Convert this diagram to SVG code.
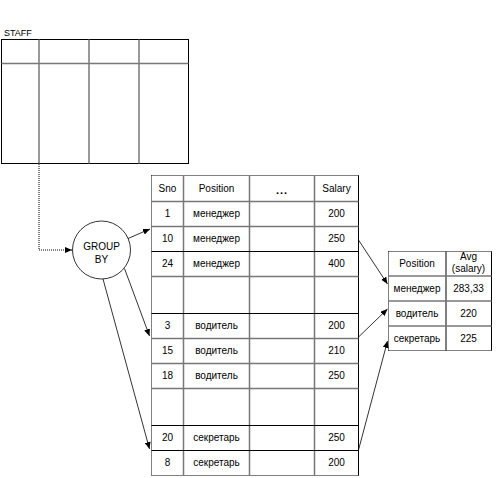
<svg xmlns="http://www.w3.org/2000/svg" width="503" height="478" viewBox="0 0 503 478">
<style>
text{font-family:"Liberation Sans",Arial,sans-serif;font-size:10px;fill:#000;text-anchor:middle}
.b{fill:none;stroke:#000;stroke-width:1}
.d{fill:none;stroke:#000;stroke-width:1;stroke-dasharray:1,1}
.g{stroke:#777;stroke-width:1.5}
.k{stroke:#000;stroke-width:1}
.c{fill:none;stroke:#000;stroke-width:0.8}
</style>
<defs>
<marker id="ah" markerUnits="userSpaceOnUse" markerWidth="8" markerHeight="6" refX="7" refY="3" orient="auto">
<path d="M0,0 L7,3 L0,6 Z" fill="#000"/>
</marker>
</defs>
<g id="staff">
<text x="4" y="36" style="text-anchor:start;font-size:9px">STAFF</text>
<rect class="b" x="1.5" y="39.5" width="187" height="124"/>
<line class="g" x1="1.5" y1="63.5" x2="188.5" y2="63.5"/>
<line class="g" x1="39" y1="39.5" x2="39" y2="163.5"/>
<line class="g" x1="89" y1="39.5" x2="89" y2="163.5"/>
<line class="g" x1="139" y1="39.5" x2="139" y2="163.5"/>
</g>
<g id="groupby">
<circle cx="101.5" cy="250" r="29" fill="#fff" stroke="#000" stroke-width="0.8"/>
<text x="101.5" y="250">GROUP</text>
<text x="101.5" y="263">BY</text>
</g>
<g id="grouped">
<line class="d" x1="151.5" y1="175.5" x2="358.5" y2="175.5"/>
<line class="d" x1="151.5" y1="175.5" x2="151.5" y2="475.5"/>
<line class="k" x1="358.5" y1="175.5" x2="358.5" y2="475.5"/>
<line class="d" x1="151.5" y1="475.5" x2="358.5" y2="475.5"/>
<line class="g" x1="183.5" y1="175.5" x2="183.5" y2="475.5"/>
<line class="g" x1="249.5" y1="175.5" x2="249.5" y2="475.5"/>
<line class="g" x1="314.5" y1="175.5" x2="314.5" y2="475.5"/>
<line class="g" x1="151.5" y1="201.5" x2="358.5" y2="201.5"/>
<line class="g" x1="151.5" y1="226.5" x2="358.5" y2="226.5"/>
<line class="k" x1="151.5" y1="251.5" x2="358.5" y2="251.5"/>
<line class="g" x1="151.5" y1="276.5" x2="358.5" y2="276.5"/>
<line class="k" x1="151.5" y1="313.5" x2="358.5" y2="313.5"/>
<line class="g" x1="151.5" y1="338.5" x2="358.5" y2="338.5"/>
<line class="g" x1="151.5" y1="363.5" x2="358.5" y2="363.5"/>
<line class="g" x1="151.5" y1="388.5" x2="358.5" y2="388.5"/>
<line class="k" x1="151.5" y1="425.5" x2="358.5" y2="425.5"/>
<line class="k" x1="151.5" y1="450.5" x2="358.5" y2="450.5"/>
<text x="167.5" y="192">Sno</text>
<text x="216.5" y="192">Position</text>
<text x="282" y="194" style="font-weight:bold;font-size:11px;letter-spacing:1px">...</text>
<text x="336.5" y="192">Salary</text>
<text x="167.5" y="217">1</text><text x="216.5" y="217">менеджер</text><text x="336.5" y="217">200</text>
<text x="167.5" y="242">10</text><text x="216.5" y="242">менеджер</text><text x="336.5" y="242">250</text>
<text x="167.5" y="267">24</text><text x="216.5" y="267">менеджер</text><text x="336.5" y="267">400</text>
<text x="167.5" y="329">3</text><text x="216.5" y="329">водитель</text><text x="336.5" y="329">200</text>
<text x="167.5" y="354">15</text><text x="216.5" y="354">водитель</text><text x="336.5" y="354">210</text>
<text x="167.5" y="379">18</text><text x="216.5" y="379">водитель</text><text x="336.5" y="379">250</text>
<text x="167.5" y="441">20</text><text x="216.5" y="441">секретарь</text><text x="336.5" y="441">250</text>
<text x="167.5" y="466">8</text><text x="216.5" y="466">секретарь</text><text x="336.5" y="466">200</text>
</g>
<g id="result">
<line class="d" x1="388.5" y1="251.5" x2="491.5" y2="251.5"/>
<line class="d" x1="388.5" y1="251.5" x2="388.5" y2="350.5"/>
<line class="k" x1="491.5" y1="251.5" x2="491.5" y2="350.5"/>
<line class="d" x1="388.5" y1="350.5" x2="491.5" y2="350.5"/>
<line class="k" x1="446" y1="251.5" x2="446" y2="350.5"/>
<line class="g" x1="388.5" y1="276" x2="491.5" y2="276"/>
<line class="g" x1="388.5" y1="301" x2="491.5" y2="301"/>
<line class="g" x1="388.5" y1="326" x2="491.5" y2="326"/>
<text x="417" y="267">Position</text>
<text x="468.5" y="260">Avg</text>
<text x="468.5" y="272">(salary)</text>
<text x="417" y="292">менеджер</text><text x="468.5" y="292">283,33</text>
<text x="417" y="317">водитель</text><text x="468.5" y="317">220</text>
<text x="417" y="342">секретарь</text><text x="468.5" y="342">225</text>
</g>
<g id="connectors">
<path class="d" d="M39,164 V250 H72" marker-end="url(#ah)"/>
<line class="c" x1="128" y1="238.5" x2="150" y2="229" marker-end="url(#ah)"/>
<line class="c" x1="124.5" y1="268.5" x2="149.5" y2="336" marker-end="url(#ah)"/>
<line class="c" x1="103" y1="279" x2="149.5" y2="449" marker-end="url(#ah)"/>
<line class="c" x1="358.5" y1="240" x2="387.5" y2="284" marker-end="url(#ah)"/>
<line class="c" x1="358.5" y1="337" x2="387.5" y2="309" marker-end="url(#ah)"/>
<line class="c" x1="358.5" y1="450" x2="387.5" y2="341" marker-end="url(#ah)"/>
</g>
</svg>
